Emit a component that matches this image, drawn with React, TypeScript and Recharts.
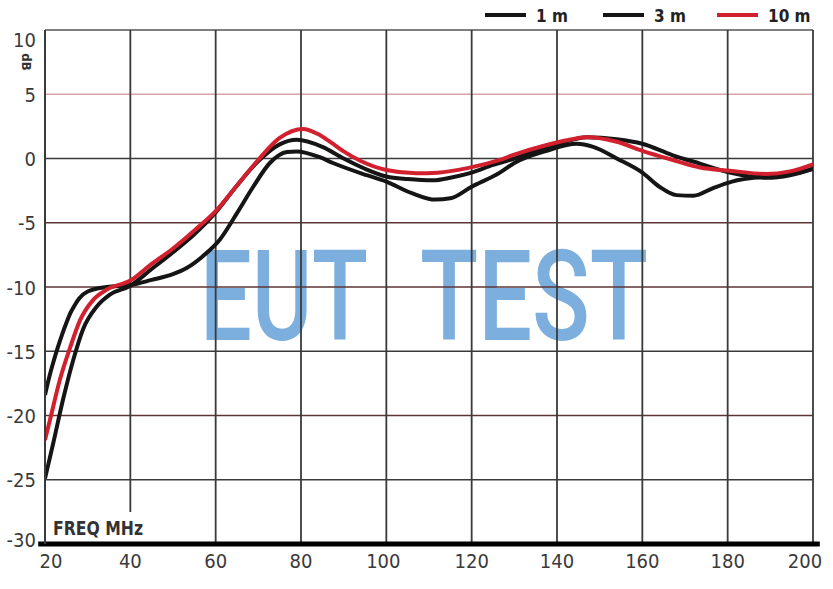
import React from 'react'
import { LineChart, Line, XAxis, YAxis, ReferenceLine, Customized } from 'recharts'

// axis ticks
const xTicks = [20, 40, 60, 80, 100, 120, 140, 160, 180, 200]
const yTicks = [10, 5, 0, -5, -10, -15, -20, -25, -30]

// 1 m (black, starts high, dips at ~113 and ~170 MHz)
const freq1m = [20, 21, 22, 23, 24, 25, 26, 27, 28, 30, 34.5, 40, 45, 50, 53.3, 57, 61, 65, 68.8, 72.7, 76.7, 79, 84.4, 87.5, 95.4, 100, 106, 111.5, 115, 120, 126.6, 130, 137.6, 144.6, 148.5, 154, 160, 164, 168, 172, 176.6, 181, 189, 194.6, 200]
const db1m = [-18.4, -17.0, -15.8, -14.7, -13.7, -12.8, -12.0, -11.4, -10.9, -10.35, -10.0, -9.85, -9.45, -9.0, -8.5, -7.6, -6.3, -4.25, -2.2, -0.35, 0.5, 0.55, 0.1, -0.35, -1.3, -1.8, -2.7, -3.2, -3.1, -2.2, -1.1, -0.35, 0.6, 1.15, 0.9, 0.0, -1.1, -2.2, -2.85, -2.9, -2.3, -1.8, -1.4, -1.25, -0.8]

// 3 m (black, starts lowest)
const freq3m = [20, 21.9, 24.2, 26.6, 28.9, 32.2, 35.2, 40, 45, 50, 55, 60, 65, 70, 75, 79, 85, 90, 95, 100, 105, 111, 115, 120, 125, 130, 135, 140, 147, 154, 160, 167, 173.5, 180.5, 189, 194.6, 200]
const db3m = [-24.9, -22.2, -18.8, -15.7, -13.3, -11.5, -10.6, -9.9, -8.6, -7.3, -5.9, -4.2, -2.1, -0.2, 1.1, 1.45, 0.9, 0.0, -0.8, -1.4, -1.6, -1.7, -1.5, -1.1, -0.5, 0.0, 0.6, 1.1, 1.65, 1.5, 1.15, 0.27, -0.4, -1.1, -1.5, -1.3, -0.8]

// 10 m (red)
const freq10m = [20, 21.2, 23.5, 25.9, 28.2, 31.3, 34.5, 40, 45, 50, 55, 60, 65, 70, 75, 80.5, 84, 87, 90, 94, 100, 107, 112, 119, 126.6, 130, 137.6, 142, 147, 154, 160, 167, 173.5, 180.5, 189, 194.6, 200]
const db10m = [-21.9, -20.3, -17.2, -14.7, -12.6, -11.0, -10.2, -9.5, -8.2, -7.0, -5.6, -4.1, -2.1, -0.1, 1.6, 2.3, 1.9, 1.25, 0.55, -0.2, -0.9, -1.15, -1.1, -0.75, -0.1, 0.3, 1.05, 1.4, 1.65, 1.3, 0.6, -0.1, -0.7, -0.95, -1.2, -1.0, -0.45]

const seriesNames = ['1 m', '3 m', '10 m']

const toPoints = (f: number[], d: number[]) => f.map((freq, i) => ({ freq, db: d[i] }))

const series = [
  { name: seriesNames[0], data: toPoints(freq1m, db1m), color: '#151515' },
  { name: seriesNames[1], data: toPoints(freq3m, db3m), color: '#151515' },
  { name: seriesNames[2], data: toPoints(freq10m, db10m), color: '#d3202e' },
]

const narrow = '"Liberation Sans Narrow", "DejaVu Sans Condensed", "Liberation Sans", sans-serif'

const hLineColor = (v: number) => {
  if (v === 5) return '#d8a4a4'
  if (v === -5 || v === -10 || v === -20) return '#5e3434'
  return '#3a3a3a'
}

const XTick = (props: any) => {
  const { x, y, payload } = props
  const v = payload.value
  const dx = v === 20 ? 6 : v === 200 ? -8 : v === 100 ? -3 : 0
  return (
    <text x={x + dx} y={y + 24} textAnchor="middle" fill="#3a3a3a" fontSize={20} fontFamily={narrow}>
      {v}
    </text>
  )
}

const YTick = (props: any) => {
  const { x, y, payload } = props
  const v = payload.value
  const dy = v === 10 ? 9 : v === -30 ? -5 : 0
  return (
    <text x={x - 9} y={y + dy + 7.5} textAnchor="end" fill="#3a3a3a" fontSize={20} fontFamily={narrow}>
      {v}
    </text>
  )
}

const legendX = [485, 603, 717]

const Decorations = () => (
  <g>
    {/* legend */}
    {series.map((s, i) => (
      <g key={s.name}>
        <line x1={legendX[i]} x2={legendX[i] + 41} y1={15} y2={15} stroke={s.color} strokeWidth={4} />
        <text x={legendX[i] + 51} y={22} fill="#222" fontSize={17} fontWeight="bold" fontFamily={narrow}>
          {s.name}
        </text>
      </g>
    ))}
    {/* unit labels */}
    <text x={0} y={0} transform="translate(22,62) rotate(90)" textAnchor="middle" fill="#333" fontSize={13} fontWeight="bold" fontFamily={narrow}>
      dB
    </text>
    <rect x={50} y={514} width={96} height={26} fill="#fff" />
    <text x={53} y={535} fill="#333" fontSize={20} fontWeight="bold" fontFamily={narrow} textLength={90} lengthAdjust="spacingAndGlyphs">
      FREQ MHz
    </text>
    {/* watermark */}
    <g fill="#5b9bd5" fillOpacity={0.8} fontFamily="Roboto, sans-serif" fontWeight={500} fontSize={126}>
      <text x={200} y={340} textLength={168} lengthAdjust="spacingAndGlyphs">EUT</text>
      <text x={420} y={340} textLength={228} lengthAdjust="spacingAndGlyphs">TEST</text>
    </g>
  </g>
)

export default function App() {
  return (
    <div style={{ position: 'absolute', left: 0, top: 0, background: '#fff' }}>
      <LineChart width={833} height={589} margin={{ top: 30, right: 20, left: 0, bottom: 0 }}>
        <XAxis
          type="number"
          dataKey="freq"
          domain={[20, 200]}
          ticks={xTicks}
          allowDataOverflow
          axisLine={false}
          tickLine={false}
          tickSize={0}
          tickMargin={0}
          height={45}
          tick={<XTick />}
        />
        <YAxis
          type="number"
          domain={[-30, 10]}
          ticks={yTicks}
          allowDataOverflow
          axisLine={{ stroke: '#3a3a3a', strokeWidth: 2 }}
          tickLine={false}
          tickSize={0}
          tickMargin={0}
          width={45}
          tick={<YTick />}
        />
        {/* horizontal grid */}
        {yTicks
          .filter((v) => v > -30)
          .map((v) => (
            <ReferenceLine key={'h' + v} y={v} stroke={v === 10 ? '#555' : hLineColor(v)} strokeWidth={v === 10 ? 1.5 : 1.6} />
          ))}
        {/* vertical grid */}
        {xTicks
          .filter((v) => v > 20)
          .map((v) =>
            v === 40 ? (
              <ReferenceLine
                key={'v' + v}
                segment={[{ x: 40, y: -27.5 }, { x: 40, y: 10 }]}
                stroke="#3a3a3a"
                strokeWidth={1.8}
              />
            ) : (
              <ReferenceLine key={'v' + v} x={v} stroke="#3a3a3a" strokeWidth={1.8} />
            )
          )}
        {/* thick base line */}
        <ReferenceLine
          segment={[{ x: 18.4, y: -30 }, { x: 201.6, y: -30 }]}
          ifOverflow="visible"
          stroke="#000"
          strokeWidth={5}
        />
        {series.map((s) => (
          <Line
            key={s.name}
            data={s.data}
            dataKey="db"
            name={s.name}
            type="monotone"
            stroke={s.color}
            strokeWidth={4}
            dot={false}
            activeDot={false}
            isAnimationActive={false}
          />
        ))}
        <Customized component={<Decorations />} />
      </LineChart>
    </div>
  )
}
